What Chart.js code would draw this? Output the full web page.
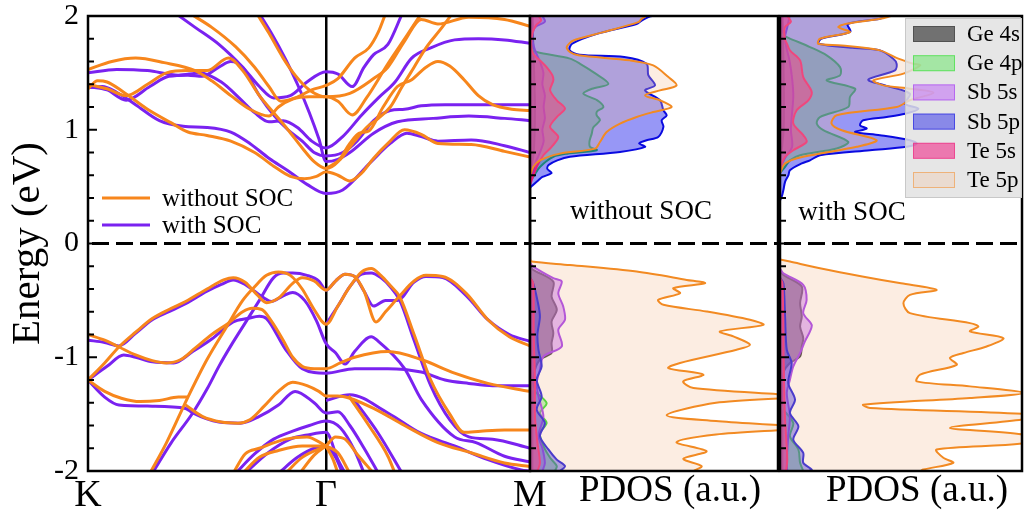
<!DOCTYPE html>
<html><head><meta charset="utf-8">
<script src="https://cdn.jsdelivr.net/npm/chart.js@4.4.1/dist/chart.umd.min.js"></script>
<style>
html,body{margin:0;padding:0;background:#fff;width:1028px;height:517px;overflow:hidden}
canvas{position:absolute;top:0}
#c1{left:0}#c2{left:520px}#c3{left:770px}
</style></head><body>
<canvas id="c1" width="560" height="517"></canvas>
<canvas id="c2" width="262" height="517"></canvas>
<canvas id="c3" width="258" height="517"></canvas>
<script>
// ---------- DATA ----------
const kTicks = [0, 1, 1.857];
const kLabels = ['K', 'Γ', 'M'];
const seriesNames = ['without SOC', 'with SOC'];
const orbitalNames = ['Ge 4s', 'Ge 4p', 'Sb 5s', 'Sb 5p', 'Te 5s', 'Te 5p'];

// band structure without SOC: [k, E(eV)]
const nc1 = [[0,1.36],[0.04,1.43],[0.08,1.42],[0.15,1.33],[0.25,1.18],[0.35,1.06],[0.42,0.98],[0.5,0.95],[0.6,0.9],[0.7,0.8],[0.78,0.68],[0.85,0.59],[0.91,0.57],[0.96,0.59],[1.0,0.63],[1.05,0.6],[1.1,0.55],[1.15,0.62],[1.2,0.75],[1.26,0.88],[1.33,1.0],[1.4,0.96],[1.47,0.88],[1.61,0.87],[1.75,0.81],[1.857,0.76]];
const nc2 = [[0,1.4],[0.08,1.36],[0.16,1.3],[0.25,1.4],[0.33,1.5],[0.42,1.52],[0.5,1.52],[0.59,1.63],[0.65,1.52],[0.72,1.3],[0.78,1.15],[0.84,1.0],[0.9,0.84],[0.95,0.72],[1.0,0.66],[1.05,0.72],[1.1,0.88],[1.14,0.97],[1.18,0.99],[1.24,1.2],[1.3,1.38],[1.36,1.44],[1.42,1.55],[1.47,1.6],[1.52,1.56],[1.58,1.44],[1.64,1.3],[1.7,1.22],[1.78,1.18],[1.857,1.17]];
const nc3 = [[0,1.53],[0.1,1.6],[0.2,1.63],[0.32,1.59],[0.45,1.52],[0.52,1.43],[0.6,1.3],[0.68,1.18],[0.76,1.12],[0.8,1.2],[0.86,1.27],[0.93,1.29],[1.0,1.29],[1.05,1.25],[1.11,1.13],[1.17,1.28],[1.26,1.58],[1.34,1.83],[1.4,2.02]];
const nc4 = [[0.43,2.02],[0.52,1.9],[0.62,1.73],[0.7,1.55],[0.76,1.38],[0.81,1.25],[0.87,1.28],[0.94,1.35],[1.0,1.39],[1.05,1.45],[1.12,1.63],[1.18,1.72],[1.22,1.86],[1.25,2.02]];
const nc5 = [[0.71,2.02],[0.76,1.85],[0.82,1.63],[0.87,1.48],[0.93,1.35],[1.0,1.29],[1.1,1.32],[1.2,1.45],[1.26,1.55],[1.33,1.78],[1.4,1.97],[1.47,1.93],[1.6,1.99],[1.75,1.97],[1.857,1.91]];
const nc6 = [[1.0,0.66],[1.06,0.74],[1.12,0.9],[1.17,1.02],[1.22,1.1],[1.27,1.2],[1.32,1.38],[1.37,1.55],[1.42,1.72],[1.48,1.88],[1.53,2.02]];
const nv1 = [[0,-1.2],[0.07,-1.05],[0.13,-0.91],[0.2,-0.78],[0.27,-0.66],[0.34,-0.58],[0.41,-0.51],[0.5,-0.4],[0.57,-0.32],[0.61,-0.3],[0.66,-0.34],[0.71,-0.45],[0.75,-0.52],[0.8,-0.48],[0.86,-0.35],[0.9,-0.3],[0.95,-0.33],[1.0,-0.41],[1.04,-0.33],[1.08,-0.27],[1.12,-0.29],[1.16,-0.42],[1.21,-0.69],[1.25,-0.6],[1.31,-0.46],[1.37,-0.33],[1.42,-0.28],[1.49,-0.29],[1.59,-0.44],[1.68,-0.67],[1.77,-0.82],[1.857,-0.9]];
const nv2 = [[0.26,-2.02],[0.33,-1.75],[0.42,-1.35],[0.5,-1.02],[0.58,-0.74],[0.65,-0.5],[0.7,-0.38],[0.75,-0.28],[0.8,-0.25],[0.85,-0.28],[0.9,-0.4],[0.95,-0.58],[1.0,-0.71],[1.05,-0.55],[1.1,-0.38],[1.15,-0.25],[1.19,-0.22],[1.23,-0.28],[1.27,-0.37],[1.31,-0.47],[1.37,-0.8],[1.44,-1.2],[1.52,-1.5],[1.58,-1.66],[1.65,-1.65],[1.75,-1.64],[1.857,-1.64]];
const nv3 = [[0,-0.8],[0.07,-0.85],[0.13,-0.91],[0.2,-0.98],[0.27,-1.03],[0.33,-1.05],[0.39,-1.02],[0.45,-0.92],[0.52,-0.8],[0.59,-0.7],[0.65,-0.6],[0.69,-0.57],[0.73,-0.58],[0.77,-0.68],[0.82,-0.85],[0.86,-1.0],[0.9,-1.08],[0.95,-1.1],[1.0,-1.1],[1.06,-1.05],[1.12,-1.0],[1.26,-0.95],[1.4,-1.02],[1.54,-1.14],[1.68,-1.23],[1.857,-1.3]];
const nv4 = [[0,-1.2],[0.07,-1.3],[0.14,-1.36],[0.22,-1.39],[0.3,-1.38],[0.38,-1.35],[0.42,-1.35]];
const nv5 = [[0.41,-1.42],[0.48,-1.52],[0.56,-1.57],[0.63,-1.58],[0.68,-1.55],[0.74,-1.43],[0.8,-1.3],[0.86,-1.22],[0.92,-1.25],[0.97,-1.3],[1.0,-1.34],[1.05,-1.34],[1.1,-1.36],[1.2,-1.45],[1.33,-1.6],[1.47,-1.75],[1.61,-1.84],[1.75,-1.93],[1.857,-1.96]];
const nv6 = [[0.61,-2.02],[0.66,-1.85],[0.72,-1.8],[0.83,-1.72],[0.92,-1.7],[1.0,-1.78]];
const nv7 = [[0.65,-2.02],[0.72,-1.88],[0.8,-1.82],[0.9,-1.78],[1.0,-1.78]];
const nv8 = [[0.83,-2.02],[0.9,-1.88],[1.0,-1.78]];
const nv9 = [[0.89,-2.02],[0.95,-1.86],[1.0,-1.78]];
const nv10 = [[1.0,-1.78],[1.04,-1.7],[1.08,-1.72],[1.13,-1.85],[1.2,-2.02]];
const nv11 = [[1.0,-1.78],[1.05,-1.84],[1.1,-2.02]];
const nv12 = [[1.0,-1.78],[1.03,-1.9],[1.05,-2.02]];
const nv13 = [[1.095,-1.34],[1.18,-1.6],[1.26,-1.87],[1.29,-2.02]];

// band structure with SOC
const sc1 = [[0,1.37],[0.06,1.38],[0.12,1.33],[0.2,1.22],[0.3,1.08],[0.4,1.03],[0.5,1.02],[0.6,0.98],[0.68,0.88],[0.76,0.75],[0.84,0.64],[0.92,0.52],[1.0,0.44],[1.07,0.47],[1.19,0.72],[1.27,0.88],[1.34,0.97],[1.4,0.94],[1.47,0.9],[1.61,0.91],[1.75,0.86],[1.857,0.8]];
const sc2 = [[0,1.38],[0.08,1.35],[0.16,1.26],[0.26,1.38],[0.34,1.47],[0.42,1.48],[0.48,1.47],[0.55,1.55],[0.6,1.6],[0.65,1.55],[0.72,1.3],[0.78,1.13],[0.84,1.0],[0.9,0.9],[0.95,0.8],[1.0,0.77],[1.07,0.8],[1.13,0.9],[1.2,1.08],[1.27,1.17],[1.33,1.18],[1.4,1.21],[1.5,1.22],[1.65,1.22],[1.857,1.22]];
const sc3 = [[0,1.5],[0.12,1.53],[0.25,1.52],[0.38,1.48],[0.47,1.5],[0.56,1.42],[0.64,1.27],[0.7,1.15],[0.76,1.07],[0.82,1.08],[0.88,1.02],[0.94,0.9],[1.0,0.84],[1.07,0.94],[1.15,1.13],[1.22,1.28],[1.29,1.42],[1.36,1.63],[1.44,1.72],[1.54,1.79],[1.64,1.8],[1.75,1.79],[1.857,1.76]];
const sc4 = [[0.37,2.02],[0.45,1.9],[0.55,1.75],[0.65,1.55],[0.72,1.38],[0.78,1.28],[0.85,1.3],[0.92,1.42],[1.0,1.51],[1.05,1.49],[1.11,1.38],[1.16,1.55],[1.2,1.66],[1.26,1.75],[1.32,2.02]];
const sc5 = [[0.72,2.02],[0.77,1.85],[0.83,1.62],[0.88,1.4],[0.93,1.15],[0.97,0.92],[1.0,0.72],[1.05,0.74],[1.1,0.8],[1.2,0.97],[1.3,1.07],[1.45,1.1],[1.6,1.12],[1.75,1.1],[1.857,1.08]];
const sv1 = [[0,-0.85],[0.07,-0.87],[0.13,-0.9],[0.2,-0.79],[0.27,-0.67],[0.34,-0.6],[0.41,-0.53],[0.5,-0.42],[0.56,-0.36],[0.61,-0.32],[0.66,-0.36],[0.7,-0.42],[0.74,-0.48],[0.77,-0.51],[0.82,-0.46],[0.86,-0.43],[0.91,-0.5],[0.96,-0.68],[1.0,-0.88],[1.04,-0.96],[1.08,-1.06],[1.12,-0.95],[1.19,-0.82],[1.22,-0.86],[1.33,-1.1],[1.4,-1.37],[1.54,-1.7],[1.63,-1.75],[1.75,-1.87],[1.857,-1.92]];
const sv2 = [[0,-1.2],[0.08,-1.08],[0.15,-0.98],[0.2,-1.0],[0.27,-1.04],[0.36,-1.05],[0.44,-0.95],[0.52,-0.84],[0.61,-0.69],[0.67,-0.66],[0.72,-0.64],[0.75,-0.66],[0.83,-0.93],[0.9,-1.1],[1.0,-1.14],[1.12,-1.1],[1.26,-1.1],[1.4,-1.13],[1.5,-1.2],[1.6,-1.23],[1.7,-1.25],[1.857,-1.25]];
const sv3 = [[0,-1.2],[0.07,-1.35],[0.13,-1.42],[0.27,-1.43],[0.41,-1.45],[0.44,-1.49],[0.55,-1.57],[0.64,-1.58],[0.72,-1.52],[0.8,-1.42],[0.87,-1.3],[0.95,-1.4],[1.0,-1.49],[1.05,-1.48],[1.1,-1.6],[1.16,-1.8],[1.22,-2.02]];
const sv4 = [[0.27,-2.02],[0.35,-1.75],[0.44,-1.49],[0.5,-1.28],[0.55,-1.08],[0.6,-0.9],[0.66,-0.7],[0.72,-0.5],[0.78,-0.3],[0.82,-0.26],[0.86,-0.26],[0.92,-0.28],[0.97,-0.33],[1.0,-0.41],[1.04,-0.33],[1.08,-0.27],[1.12,-0.29],[1.16,-0.42],[1.2,-0.55],[1.25,-0.5],[1.3,-0.5],[1.37,-0.34],[1.42,-0.29],[1.49,-0.3],[1.59,-0.46],[1.68,-0.67],[1.77,-0.8],[1.857,-0.86]];
const sv5 = [[1.0,-0.71],[1.05,-0.55],[1.1,-0.38],[1.15,-0.27],[1.19,-0.26],[1.23,-0.3],[1.27,-0.38],[1.31,-0.5],[1.37,-0.85],[1.44,-1.25],[1.52,-1.55],[1.6,-1.7],[1.7,-1.72],[1.857,-1.8]];
const sv6 = [[0.62,-2.02],[0.7,-1.85],[0.78,-1.72],[0.86,-1.65],[0.93,-1.6],[1.0,-1.56],[1.06,-1.62],[1.12,-1.82],[1.16,-2.02]];
const sv7 = [[0.66,-2.02],[0.75,-1.85],[0.85,-1.72],[0.93,-1.68],[1.0,-1.66],[1.05,-1.9],[1.08,-2.02]];
const sv8 = [[0.8,-2.02],[0.88,-1.88],[0.95,-1.8],[1.0,-1.78],[1.04,-1.88],[1.07,-2.02]];
const sv9 = [[1.0,-1.38],[1.1,-1.33],[1.26,-1.49],[1.4,-1.67],[1.54,-1.78],[1.68,-1.9],[1.82,-1.99],[1.857,-2.0]];
const sv10 = [[1.12,-1.38],[1.22,-1.67],[1.32,-2.02]];

const bandsNoSOC = [nc1,nc2,nc3,nc4,nc5,nc6,nv1,nv2,nv3,nv4,nv5,nv6,nv7,nv8,nv9,nv10,nv11,nv12,nv13];
const bandsSOC = [sc1,sc2,sc3,sc4,sc5,sv1,sv2,sv3,sv4,sv5,sv6,sv7,sv8,sv9,sv10];

// PDOS without SOC: [E(eV), PDOS(a.u.)]
const noSOC_Ge4s = [[[2.0,0.01],[1.6,0.015],[1.2,0.02],[0.8,0.015],[0.6,0.0]],
  [[-0.2,0.0],[-0.232,0.013],[-0.335,0.094],[-0.466,0.087],[-0.583,0.108],[-0.686,0.087],[-0.788,0.094],[-0.876,0.087],[-0.963,0.087],[-1.022,0.04],[-1.11,0.02],[-1.227,0.013],[-1.6,0.01],[-2.0,0.01]]];
const noSOC_Ge4p = [[[1.72,0.0],[1.683,0.027],[1.625,0.161],[1.58,0.202],[1.5,0.26],[1.404,0.316],[1.36,0.25],[1.317,0.215],[1.26,0.27],[1.2,0.296],[1.16,0.27],[1.127,0.269],[1.083,0.282],[1.02,0.255],[0.966,0.249],[0.9,0.24],[0.85,0.242],[0.82,0.269],[0.79,0.15],[0.762,0.094],[0.673,0.04],[0.585,0.013],[0.55,0.0]],
  [[-1.2,0.0],[-1.285,0.013],[-1.402,0.067],[-1.49,0.04],[-1.578,0.067],[-1.665,0.04],[-1.78,0.054],[-1.884,0.081],[-1.957,0.108],[-2.0,0.1]]];
const noSOC_Sb5s = [[[2.0,0.05],[1.95,0.06],[1.9,0.02],[1.8,0.01],[1.7,0.02],[1.6,0.04],[1.5,0.054],[1.4,0.05],[1.3,0.06],[1.2,0.055],[1.1,0.06],[1.0,0.05],[0.9,0.055],[0.8,0.04],[0.7,0.02],[0.6,0.01],[0.55,0.0]],
  [[-0.17,0.0],[-0.203,0.013],[-0.305,0.094],[-0.335,0.128],[-0.437,0.114],[-0.554,0.134],[-0.671,0.141],[-0.759,0.114],[-0.905,0.128],[-0.993,0.054],[-1.11,0.04],[-1.227,0.027],[-1.35,0.035],[-1.52,0.054],[-1.69,0.034],[-1.8,0.05],[-1.93,0.06],[-2.0,0.05]]];
const noSOC_Sb5p = [[[2.0,0.49],[1.99,0.477],[1.96,0.45],[1.93,0.43],[1.843,0.27],[1.756,0.17],[1.698,0.16],[1.66,0.2],[1.64,0.38],[1.58,0.47],[1.48,0.477],[1.39,0.504],[1.346,0.464],[1.26,0.524],[1.17,0.538],[1.127,0.551],[1.083,0.531],[1.025,0.538],[0.937,0.517],[0.908,0.47],[0.88,0.44],[0.849,0.464],[0.805,0.363],[0.762,0.161],[0.731,0.11],[0.69,0.075],[0.655,0.07],[0.62,0.087],[0.585,0.05],[0.556,0.034],[0.51,0.01],[0.49,0.0]],
  [[-0.3,0.0],[-0.349,0.013],[-0.5,0.03],[-0.642,0.04],[-0.8,0.03],[-0.934,0.034],[-1.08,0.047],[-1.198,0.027],[-1.344,0.047],[-1.46,0.027],[-1.578,0.06],[-1.694,0.04],[-1.81,0.074],[-1.9,0.108],[-1.957,0.141],[-2.0,0.12]]];
const noSOC_Te5s = [[[2.0,0.035],[1.96,0.045],[1.92,0.025],[1.85,0.01],[1.75,0.005],[1.668,0.013],[1.6,0.045],[1.55,0.067],[1.48,0.09],[1.433,0.094],[1.346,0.081],[1.259,0.108],[1.186,0.141],[1.112,0.108],[1.025,0.081],[0.937,0.114],[0.85,0.087],[0.776,0.054],[0.673,0.027],[0.556,0.007],[0.52,0.0]],
  [[-0.3,0.0],[-0.35,0.013],[-0.8,0.015],[-1.2,0.02],[-1.52,0.02],[-1.75,0.03],[-1.93,0.04],[-2.0,0.03]]];
const noSOC_Te5p = [[[2.0,0.47],[1.975,0.45],[1.946,0.437],[1.858,0.296],[1.785,0.175],[1.727,0.148],[1.683,0.161],[1.654,0.195],[1.61,0.403],[1.566,0.497],[1.463,0.558],[1.39,0.591],[1.346,0.524],[1.302,0.464],[1.259,0.524],[1.2,0.571],[1.156,0.497],[1.112,0.43],[1.054,0.363],[0.98,0.309],[0.892,0.282],[0.834,0.262],[0.79,0.121],[0.731,0.04],[0.673,0.013],[0.585,0.0]],
  [[-0.14,0.0],[-0.159,0.007],[-0.189,0.161],[-0.247,0.43],[-0.32,0.632],[-0.349,0.706],[-0.393,0.578],[-0.437,0.605],[-0.496,0.517],[-0.539,0.538],[-0.598,0.712],[-0.671,0.887],[-0.715,0.941],[-0.773,0.766],[-0.817,0.82],[-0.89,0.887],[-0.934,0.833],[-1.05,0.605],[-1.095,0.558],[-1.153,0.699],[-1.212,0.618],[-1.27,0.659],[-1.344,1.08],[-1.4,0.75],[-1.51,0.551],[-1.56,0.75],[-1.62,1.1],[-1.68,0.75],[-1.747,0.591],[-1.826,0.712],[-1.893,0.618],[-1.957,0.692],[-2.0,0.659]]];

// PDOS with SOC
const SOC_Ge4s = [[[2.0,0.01],[1.5,0.015],[1.0,0.015],[0.7,0.0]],
  [[-0.24,0.0],[-0.276,0.014],[-0.379,0.09],[-0.525,0.083],[-0.642,0.09],[-0.73,0.083],[-0.832,0.096],[-0.905,0.09],[-0.993,0.083],[-1.051,0.041],[-1.139,0.014],[-1.5,0.01],[-2.0,0.01]]];
const SOC_Ge4p = [[[1.85,0.0],[1.815,0.028],[1.727,0.124],[1.654,0.193],[1.551,0.248],[1.478,0.248],[1.434,0.193],[1.361,0.31],[1.288,0.289],[1.2,0.282],[1.112,0.165],[1.054,0.152],[0.996,0.179],[0.893,0.282],[0.835,0.234],[0.776,0.083],[0.731,0.041],[0.673,0.021],[0.62,0.0]],
  [[-1.4,0.0],[-1.46,0.014],[-1.578,0.055],[-1.694,0.041],[-1.811,0.076],[-1.928,0.083],[-2.0,0.096]]];
const SOC_Sb5s = [[[2.0,0.04],[1.9,0.03],[1.8,0.02],[1.6,0.04],[1.45,0.05],[1.3,0.055],[1.15,0.05],[1.0,0.045],[0.85,0.05],[0.75,0.02],[0.65,0.0]],
  [[-0.22,0.0],[-0.262,0.014],[-0.364,0.096],[-0.496,0.11],[-0.612,0.096],[-0.715,0.131],[-0.773,0.124],[-0.861,0.103],[-0.963,0.083],[-1.08,0.055],[-1.198,0.041],[-1.314,0.028],[-1.519,0.041],[-1.694,0.034],[-1.928,0.028],[-2.0,0.03]]];
const SOC_Sb5p = [[[2.0,0.44],[1.975,0.413],[1.93,0.28],[1.86,0.29],[1.8,0.17],[1.756,0.16],[1.72,0.3],[1.698,0.413],[1.625,0.468],[1.58,0.482],[1.522,0.475],[1.441,0.365],[1.39,0.434],[1.317,0.537],[1.229,0.517],[1.185,0.572],[1.141,0.517],[1.112,0.441],[1.083,0.344],[1.039,0.331],[1.01,0.358],[0.98,0.31],[0.952,0.413],[0.908,0.537],[0.879,0.565],[0.85,0.524],[0.82,0.372],[0.776,0.165],[0.731,0.124],[0.704,0.09],[0.645,0.041],[0.601,0.035],[0.542,0.021],[0.469,0.014],[0.411,0.007],[0.38,0.0]],
  [[-0.3,0.0],[-0.349,0.014],[-0.642,0.021],[-0.934,0.028],[-1.051,0.048],[-1.227,0.034],[-1.373,0.062],[-1.49,0.041],[-1.607,0.076],[-1.724,0.055],[-1.84,0.096],[-1.928,0.096],[-1.987,0.131],[-2.0,0.12]]];
const SOC_Te5s = [[[2.0,0.03],[1.95,0.045],[1.9,0.02],[1.8,0.02],[1.75,0.03],[1.698,0.041],[1.61,0.083],[1.463,0.096],[1.333,0.131],[1.259,0.117],[1.171,0.069],[1.054,0.055],[0.952,0.096],[0.893,0.11],[0.82,0.055],[0.762,0.021],[0.704,0.007],[0.66,0.0]],
  [[-0.3,0.0],[-0.35,0.01],[-1.0,0.015],[-1.5,0.02],[-1.9,0.03],[-2.0,0.025]]];
const SOC_Te5p = [[[2.0,0.46],[1.975,0.413],[1.931,0.275],[1.902,0.241],[1.858,0.289],[1.8,0.165],[1.756,0.158],[1.741,0.255],[1.698,0.413],[1.625,0.489],[1.58,0.551],[1.566,0.579],[1.493,0.51],[1.434,0.386],[1.39,0.427],[1.361,0.537],[1.326,0.634],[1.259,0.537],[1.2,0.482],[1.127,0.234],[1.054,0.213],[0.996,0.255],[0.908,0.399],[0.85,0.317],[0.762,0.096],[0.704,0.021],[0.617,0.0]],
  [[-0.14,0.0],[-0.159,0.041],[-0.22,0.17],[-0.29,0.34],[-0.35,0.5],[-0.408,0.647],[-0.452,0.537],[-0.525,0.51],[-0.612,0.537],[-0.7,0.785],[-0.73,0.82],[-0.773,0.785],[-0.832,0.923],[-0.905,0.854],[-0.963,0.758],[-1.007,0.702],[-1.066,0.73],[-1.153,0.579],[-1.212,0.565],[-1.256,0.785],[-1.314,1.005],[-1.358,0.785],[-1.417,0.344],[-1.446,0.372],[-1.504,1.05],[-1.548,1.0],[-1.621,0.702],[-1.68,1.005],[-1.753,1.02],[-1.811,0.647],[-1.884,0.675],[-1.928,0.716],[-1.987,0.592],[-2.0,0.58]]];

const pdosNoSOC = [noSOC_Ge4s, noSOC_Ge4p, noSOC_Sb5s, noSOC_Sb5p, noSOC_Te5s, noSOC_Te5p];
const pdosSOC = [SOC_Ge4s, SOC_Ge4p, SOC_Sb5s, SOC_Sb5p, SOC_Te5s, SOC_Te5p];

// ---------- STYLE ----------
const FONT = "'Liberation Serif','Times New Roman',serif";
Chart.defaults.font.family = FONT;
Chart.defaults.color = '#000';
const ORANGE = '#f7861c', PURPLE = '#7a22f0';
const orbStyle = [
  {line:'#333333', fill:'rgba(35,35,35,0.6)'},
  {line:'#22dd22', fill:'rgba(40,230,40,0.35)'},
  {line:'#9b30f0', fill:'rgba(185,80,250,0.45)'},
  {line:'#0a0ae0', fill:'rgba(25,25,235,0.45)'},
  {line:'#ee1a74', fill:'rgba(240,30,130,0.55)'},
  {line:'#f28a22', fill:'rgba(245,190,150,0.28)'}
];

const framePlugin = {id:'frame', afterDraw(chart){
  const {ctx, chartArea:a} = chart;
  ctx.save(); ctx.strokeStyle='#000'; ctx.lineWidth=2.5;
  ctx.strokeRect(a.left, a.top, a.right-a.left, a.bottom-a.top); ctx.restore();
}};
const tickPlugin = {id:'inTicks', afterDraw(chart){
  const y = chart.scales.y, a = chart.chartArea, ctx = chart.ctx;
  ctx.save(); ctx.strokeStyle='#000'; ctx.lineWidth=2;
  y.ticks.forEach(t => {
    if (t.value <= -1.99 || t.value >= 1.99) return;
    const major = Math.abs(t.value - Math.round(t.value)) < 1e-6;
    const py = y.getPixelForValue(t.value);
    ctx.beginPath(); ctx.moveTo(a.left, py); ctx.lineTo(a.left + (major ? 9 : 6), py); ctx.stroke();
  });
  ctx.restore();
}};
const zeroPlugin = {id:'zero', afterDatasetsDraw(chart){
  const y = chart.scales.y, a = chart.chartArea, ctx = chart.ctx;
  const py = y.getPixelForValue(0);
  ctx.save(); ctx.strokeStyle='#000'; ctx.lineWidth=3; ctx.setLineDash([17,7]);
  ctx.beginPath(); ctx.moveTo(a.left+4, py); ctx.lineTo(a.right, py); ctx.stroke(); ctx.restore();
}};
const bandLegend = {id:'bandLegend', afterDraw(chart){
  const ctx = chart.ctx, a = chart.chartArea;
  const cols = [ORANGE, PURPLE];
  ctx.save();
  seriesNames.forEach((t, i) => {
    const y = a.top + 182 + i*27;
    ctx.strokeStyle = cols[i]; ctx.lineWidth = 3;
    ctx.beginPath(); ctx.moveTo(a.left+14, y); ctx.lineTo(a.left+62, y); ctx.stroke();
    ctx.fillStyle = '#000'; ctx.font = '25px ' + FONT; ctx.textBaseline = 'middle'; ctx.textAlign = 'left';
    ctx.fillText(t, a.left+74, y+1);
  });
  ctx.restore();
}};
function panelText(text, dx, dy){
  return {id:'ptext', afterDatasetsDraw(chart){
    const ctx = chart.ctx, a = chart.chartArea;
    ctx.save(); ctx.fillStyle='#000'; ctx.font='27px '+FONT; ctx.textAlign='center'; ctx.textBaseline='middle';
    ctx.fillText(text, a.left+dx, a.top+dy);
    ctx.font='37px '+FONT; ctx.textBaseline='alphabetic';
    ctx.fillText('PDOS (a.u.)', (a.left+a.right)/2 + 16, a.bottom + 30);
    ctx.restore();
  }};
}
const pdosLegend = {id:'pdosLegend', afterDraw(chart){
  const ctx = chart.ctx, a = chart.chartArea;
  const x0 = a.right - 117, y0 = a.top + 2, w = 117, h = 180;
  ctx.save();
  ctx.fillStyle = 'rgba(226,226,226,0.85)'; ctx.fillRect(x0, y0, w, h);
  ctx.strokeStyle = '#c8c8c8'; ctx.lineWidth = 1; ctx.strokeRect(x0+0.5, y0+0.5, w-1, h-1);
  orbitalNames.forEach((n, i) => {
    const cy = y0 + 16 + i*29.2;
    ctx.fillStyle = orbStyle[i].fill; ctx.fillRect(x0+8, cy-8, 42, 16);
    ctx.strokeStyle = orbStyle[i].line; ctx.globalAlpha = 0.5; ctx.strokeRect(x0+8.5, cy-7.5, 41, 15); ctx.globalAlpha = 1;
    ctx.fillStyle = '#000'; ctx.font = '23px ' + FONT; ctx.textAlign='left'; ctx.textBaseline='middle';
    ctx.fillText(n, x0+62, cy+1);
  });
  ctx.restore();
}};

const yTicksCfg = {stepSize:0.2, autoSkip:false};

// ---------- BAND CHART ----------
const bandSets = [];
bandsNoSOC.forEach(b => bandSets.push({data:b.map(p=>({x:p[0], y:p[1]})), borderColor:ORANGE, showLine:true}));
bandsSOC.forEach(b => bandSets.push({data:b.map(p=>({x:p[0], y:p[1]})), borderColor:PURPLE, showLine:true}));

new Chart(document.getElementById('c1'), {
  type:'scatter',
  data:{datasets:bandSets},
  options:{
    responsive:false, animation:false,
    layout:{padding:{left:0, right:30, top:16, bottom:0}},
    plugins:{legend:{display:false}, tooltip:{enabled:false}},
    elements:{point:{radius:0}, line:{borderWidth:3, cubicInterpolationMode:'monotone'}},
    scales:{
      x:{type:'linear', min:kTicks[0], max:kTicks[2],
        afterBuildTicks:s => { s.ticks = kTicks.map(v => ({value:v})); },
        ticks:{callback:(v,i)=>kLabels[i], font:{size:38}, padding:2, maxRotation:0, autoSkip:false},
        grid:{drawTicks:false, lineWidth:2.5, color:c => (c.tick && Math.abs(c.tick.value-kTicks[1])<1e-6) ? '#000' : 'rgba(0,0,0,0)'},
        border:{display:false},
        afterFit:s => { s.height = 46; s.paddingLeft = 0; s.paddingRight = 0; }},
      y:{type:'linear', min:-2, max:2,
        ticks:Object.assign({}, yTicksCfg, {font:{size:30}, padding:9,
          callback:v => Math.abs(v-Math.round(v))<1e-6 ? String(Math.round(v)) : ''}),
        grid:{display:false, drawTicks:false}, border:{display:false},
        title:{display:true, text:'Energy (eV)', font:{size:41}, padding:{top:4, bottom:0}},
        afterFit:s => { s.width = 88; s.paddingTop = 0; s.paddingBottom = 0; }}
    }
  },
  plugins:[zeroPlugin, tickPlugin, framePlugin, bandLegend]
});

// ---------- PDOS CHARTS ----------
function pdosChart(id, sets, text, dx, dy, withLegend){
  const datasets = [];
  sets.forEach((parts, i) => {
    parts.forEach(part => {
      datasets.push({data:part.map(p=>({x:p[1], y:p[0]})), borderColor:orbStyle[i].line,
        backgroundColor:orbStyle[i].fill, fill:'origin', order:6-i, borderWidth:2});
    });
  });
  const plugins = [zeroPlugin, tickPlugin, framePlugin, panelText(text, dx, dy)];
  if (withLegend) plugins.push(pdosLegend);
  new Chart(document.getElementById(id), {
    type:'line',
    data:{datasets},
    options:{
      responsive:false, animation:false, indexAxis:'y',
      layout:{padding:{left:10, right:id==='c2'?4:6, top:16, bottom:0}},
      plugins:{legend:{display:false}, tooltip:{enabled:false}},
      elements:{point:{radius:0}, line:{tension:0.3}},
      scales:{
        x:{type:'linear', min:0, max:1, grid:{display:false, drawTicks:false}, border:{display:false},
          ticks:{display:false},
          afterFit:s => { s.height = 46; }},
        y:{type:'linear', min:-2, max:2, ticks:Object.assign({display:false}, yTicksCfg),
          grid:{display:false, drawTicks:false}, border:{display:false},
          afterFit:s => { s.width = 0; s.paddingTop = 0; s.paddingBottom = 0; }}
      }
    },
    plugins
  });
}
pdosChart('c2', pdosNoSOC, 'without SOC', 111, 196, false);
pdosChart('c3', pdosSOC, 'with SOC', 72, 197, true);
</script>
</body></html>
